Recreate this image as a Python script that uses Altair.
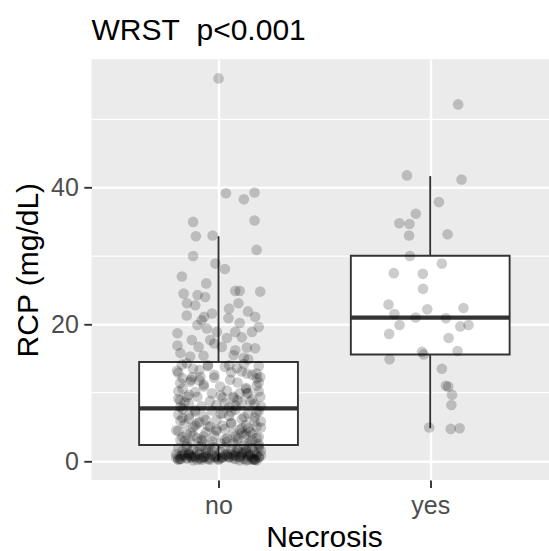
import json

import altair as alt
import pandas as pd

# Groups on the x axis
categories = ["no", "yes"]

# Jittered observations per group: (horizontal jitter in category units, RCP in mg/dL)
no_upper = [
    (0.0, 56.0), (0.035, 39.2), (0.12, 38.3), (0.17, 39.3), (-0.12, 35.0), (0.17, 35.2),
    (-0.107, 32.9), (-0.028, 33.0), (0.18, 30.9), (-0.12, 30.0), (-0.015, 28.9), (0.03, 28.1),
    (-0.173, 27.0), (-0.058, 26.0), (-0.165, 24.5), (0.079, 24.9), (0.10, 24.9), (0.197, 24.8),
    (-0.099, 24.3), (-0.063, 24.0), (-0.149, 23.1), (-0.11, 22.8), (0.094, 23.1), (0.139, 21.9),
    (0.173, 21.1), (0.047, 20.9), (-0.031, 21.6), (-0.068, 21.1), (0.10, 20.2), (-0.10, 19.9),
    (-0.194, 18.7), (-0.055, 19.4), (-0.008, 18.9), (0.079, 18.9), (0.158, 18.9), (-0.126, 17.7),
    (-0.039, 17.7), (0.04, 18.0), (0.11, 18.1), (-0.194, 16.9), (-0.094, 16.7), (0.016, 16.7),
    (0.079, 16.2), (0.134, 16.6), (0.173, 16.5), (-0.134, 15.3), (-0.071, 15.4), (0.071, 15.5),
    (-0.18, 15.8), (0.12, 15.1), (-0.02, 17.2), (0.19, 19.6), (-0.08, 20.6), (0.05, 22.3),
    (-0.15, 21.3), (0.14, 14.9),
]
no_mid_high = [
    (-0.173, 14.1), (-0.196, 13.2), (-0.124, 12.3), (-0.086, 12.3), (0.087, 13.6), (0.134, 12.8),
    (0.181, 12.1), (0.197, 12.3), (-0.181, 11.4), (-0.134, 11.6), (-0.031, 9.9), (0.055, 11.9),
    (0.008, 10.9), (0.134, 9.9), (0.197, 9.4), (-0.149, 9.4), (-0.181, 8.9), (-0.10, 9.4),
    (0.071, 9.4), (0.10, 9.9),
    (-0.15, 14.3), (-0.05, 14.0), (0.03, 13.8), (0.12, 14.2), (0.19, 13.9), (-0.19, 12.9),
    (-0.09, 13.3), (0.06, 13.0), (0.16, 12.6), (-0.13, 11.9), (-0.02, 12.2), (0.09, 11.5),
    (0.18, 11.0), (-0.17, 10.6), (-0.07, 10.9), (0.04, 10.3), (0.13, 10.7), (-0.11, 10.1),
    (0.01, 9.6), (0.19, 10.2), (-0.19, 9.1), (-0.04, 8.8), (0.07, 9.2), (0.15, 8.7),
    (-0.14, 8.4), (-0.01, 8.2), (0.11, 8.5), (0.2, 8.0), (-0.18, 7.9), (-0.08, 8.0),
    (0.05, 7.9), (0.17, 8.3),
    (-0.16, 8.6), (0.02, 9.3), (0.13, 10.5), (-0.07, 11.2), (0.18, 12.8), (-0.12, 13.5),
    (0.08, 8.1), (-0.02, 12.6), (0.16, 9.0), (-0.19, 10.2), (0.05, 14.0), (-0.09, 11.8),
    (0.11, 13.1), (-0.14, 9.7), (0.19, 11.5), (-0.05, 13.9), (0.03, 8.4), (0.14, 10.0),
    (-0.17, 12.1), (0.09, 8.9),
]
no_mid_low = [
    (-0.17, 7.6), (0.08, 7.5), (-0.03, 7.4), (0.19, 7.3), (-0.11, 7.2), (0.02, 7.0),
    (0.14, 6.9), (-0.19, 6.8), (0.05, 6.6), (-0.07, 6.5), (0.17, 6.4), (-0.14, 6.2),
    (0.11, 6.1), (-0.01, 6.0), (0.2, 5.8), (-0.09, 5.7), (0.06, 5.5), (-0.16, 5.4),
    (0.13, 5.3), (-0.05, 5.1), (0.18, 5.0), (-0.12, 4.9), (0.03, 4.7), (0.1, 4.6),
    (-0.2, 4.5), (0.15, 4.3), (-0.06, 4.2), (0.07, 4.1), (-0.15, 3.9), (0.12, 3.8),
    (-0.02, 3.7), (0.19, 3.5), (-0.1, 3.4), (0.04, 3.3), (-0.18, 3.1), (0.16, 3.0),
    (-0.08, 2.9), (0.09, 2.8), (-0.13, 2.7), (0.01, 2.6), (0.14, 2.5), (-0.04, 2.4),
    (0.18, 7.1), (-0.17, 6.3), (0.06, 5.6), (-0.11, 5.2), (0.11, 4.8), (-0.01, 4.4),
    (0.16, 4.0), (-0.07, 3.6), (0.03, 3.2), (-0.15, 2.45),
    (0.07, 2.6), (-0.16, 3.0), (0.18, 3.4), (-0.03, 2.9), (0.11, 4.1), (-0.12, 3.7),
    (0.02, 5.2), (0.15, 2.7), (-0.19, 4.4), (-0.06, 6.0), (0.09, 3.3), (0.2, 4.9),
    (-0.1, 5.5), (0.04, 2.8), (-0.14, 6.7), (0.13, 3.9), (-0.01, 4.6), (0.17, 5.8),
    (-0.17, 3.5), (0.06, 7.2), (-0.08, 3.1), (0.12, 6.4), (-0.13, 4.2), (0.19, 2.5),
    (-0.04, 5.0), (0.08, 3.6), (-0.18, 5.9), (0.01, 6.9), (0.14, 4.8), (-0.11, 7.4),
]
no_low = [
    (0.12, 2.3), (-0.08, 2.2), (0.19, 2.2), (-0.15, 2.1), (0.03, 2.0), (-0.02, 2.0),
    (0.16, 1.9), (-0.19, 1.9), (0.09, 1.8), (-0.12, 1.7), (0.06, 1.7), (-0.05, 1.6),
    (0.2, 1.5), (-0.17, 1.5), (0.13, 1.4), (-0.1, 1.4), (0.01, 1.3), (0.17, 1.3),
    (-0.14, 1.2), (0.08, 1.2), (-0.06, 1.1), (0.15, 1.1), (-0.2, 1.0), (0.04, 1.0),
    (-0.09, 1.0), (0.11, 0.9), (-0.03, 0.9), (0.18, 0.9), (-0.16, 0.8), (0.07, 0.8),
    (-0.11, 0.8), (0.14, 0.7), (-0.01, 0.7), (-0.18, 0.7), (0.1, 0.6), (-0.07, 0.6),
    (0.05, 0.6), (0.19, 0.5), (-0.13, 0.5), (0.02, 0.5), (-0.04, 0.4), (0.16, 0.4),
    (-0.15, 0.4), (0.12, 0.3), (-0.19, 0.3), (0.08, 0.3), (-0.08, 0.2), (0.17, 0.2),
    (0.0, 0.2), (-0.12, 0.1), (0.13, 0.1), (-0.06, 1.6),
    (-0.18, 0.3), (0.05, 0.5), (0.14, 0.2), (-0.09, 0.4), (0.2, 0.8), (-0.02, 0.6),
    (0.1, 0.1), (-0.14, 1.0), (0.17, 0.3), (-0.06, 0.7), (0.03, 0.9), (-0.19, 0.2),
    (0.12, 1.2), (-0.11, 0.5), (0.07, 0.4), (0.19, 0.6), (-0.16, 1.1), (0.0, 0.3),
    (0.15, 0.8), (-0.04, 0.2), (-0.2, 0.5), (0.09, 1.4), (-0.13, 0.7), (0.18, 0.1),
    (0.02, 0.6), (-0.08, 0.4), (0.13, 1.7), (-0.17, 0.9), (0.06, 1.0), (-0.05, 0.3),
    (0.16, 0.2), (-0.12, 0.6), (0.11, 1.3), (-0.01, 0.5), (-0.15, 0.4), (0.08, 0.8),
    (0.19, 1.9), (-0.1, 0.2), (0.04, 0.7), (-0.18, 0.3), (0.14, 1.0), (-0.07, 0.5),
    (0.1, 0.6), (-0.03, 1.5), (0.17, 0.2), (-0.14, 0.9), (0.01, 0.4), (-0.09, 2.1),
]
yes_points = [
    (0.132, 52.2), (-0.11, 41.8), (0.148, 41.2), (0.041, 37.9), (-0.068, 36.2), (-0.146, 34.8),
    (-0.098, 34.7), (-0.10, 33.0), (0.082, 33.2), (-0.096, 30.0), (0.055, 28.9), (-0.172, 27.5),
    (-0.035, 27.4), (-0.034, 25.2), (-0.197, 22.9), (-0.169, 21.5), (-0.014, 22.2), (0.157, 22.4),
    (-0.069, 21.0), (0.074, 20.9), (-0.145, 19.9), (0.142, 19.7), (0.181, 19.9), (-0.194, 18.6),
    (0.087, 18.0), (-0.039, 16.0), (-0.031, 15.6), (0.129, 16.1), (-0.192, 14.9), (0.055, 13.5),
    (0.074, 11.0), (0.085, 10.9), (0.103, 9.7), (0.10, 8.2), (-0.005, 4.9), (0.097, 4.7),
    (0.139, 4.8),
]

# Box summaries per group: lower whisker, Q1, median, Q3, upper whisker
box_lo = [0.1, 4.8]
box_q1 = [2.34, 15.6]
box_med = [7.7, 21.0]
box_q3 = [14.5, 30.05]
box_hi = [32.9, 41.7]

# Axis breaks
y_breaks = [0, 20, 40]
y_minor = [10, 30, 50]

groups = {1: no_upper + no_mid_high + no_mid_low + no_low, 2: yes_points}
points = pd.DataFrame(
    [{"pos": pos, "x": pos + dx, "rcp": y} for pos, pts in groups.items() for dx, y in pts]
)
boxes = pd.DataFrame({
    "pos": [1, 2], "lo": box_lo, "q1": box_q1, "med": box_med, "q3": box_q3, "hi": box_hi,
})
minor = pd.DataFrame({"rcp": y_minor})

W, H = 457.5, 420.7
PANEL = "#EBEBEB"
DARK = "#333333"
FONT = "Liberation Sans"

x_scale = alt.Scale(domain=[0.4, 2.561], nice=False, zero=False)
y_scale = alt.Scale(domain=[-2.78, 58.8], nice=False, zero=False)

x_axis = alt.Axis(
    values=[1, 2],
    labelExpr=f"{json.dumps(categories)}[datum.value - 1]",
    title="Necrosis",
    grid=True, gridColor="white", gridWidth=2.4,
    domain=False,
    tickColor=DARK, tickWidth=1.9, tickSize=7.5,
    labelColor="#4D4D4D", labelFontSize=25, labelPadding=6, labelFont=FONT,
    titleFontSize=30, titleFontWeight="normal", titleColor="black", titleFont=FONT,
    titleX=232.5, titleY=66, titleAlign="center", titleBaseline="alphabetic",
)
y_axis = alt.Axis(
    values=y_breaks,
    title="RCP (mg/dL)",
    grid=True, gridColor="white", gridWidth=2.4,
    domain=False,
    tickColor=DARK, tickWidth=1.9, tickSize=7.7,
    labelColor="#4D4D4D", labelFontSize=25, labelPadding=5.5, labelFont=FONT,
    titleFontSize=30, titleFontWeight="normal", titleColor="black", titleFont=FONT,
    titleAngle=270, titleX=-54, titleY=H / 2, titleAlign="center", titleBaseline="alphabetic",
)

X = lambda f: alt.X(f, type="quantitative", scale=x_scale, axis=x_axis)
Y = lambda f: alt.Y(f, type="quantitative", scale=y_scale, axis=y_axis)

minor_grid = alt.Chart(minor).mark_rule(color="white", strokeWidth=1.2).encode(y=Y("rcp"))

box_base = alt.Chart(boxes).transform_calculate(
    xlo="datum.pos - 0.375", xhi="datum.pos + 0.375"
)
whisker_low = box_base.mark_rule(color=DARK, strokeWidth=1.9).encode(
    x=X("pos"), y=Y("lo"), y2="q1"
)
whisker_high = box_base.mark_rule(color=DARK, strokeWidth=1.9).encode(
    x=X("pos"), y=Y("q3"), y2="hi"
)
box_rect = box_base.mark_rect(fill="white", stroke=DARK, strokeWidth=1.9).encode(
    x=X("xlo"), x2="xhi", y=Y("q1"), y2="q3"
)
median = box_base.mark_rule(color=DARK, strokeWidth=4.2).encode(
    x=X("xlo"), x2="xhi", y=Y("med")
)
dots = alt.Chart(points).mark_circle(color="black", opacity=0.2, size=113).encode(
    x=X("x"), y=Y("rcp")
)

chart = (
    alt.layer(minor_grid, whisker_low, whisker_high, box_rect, median, dots)
    .properties(
        width=W,
        height=H,
        title=alt.TitleParams(
            text="WRST\u00a0 p<0.001",
            anchor="start", frame="group",
            fontSize=30, fontWeight="normal", color="black", font=FONT,
            baseline="alphabetic", offset=20, dy=31,
        ),
        autosize="none",
        padding={"left": 91.5, "top": 59.3, "right": 0, "bottom": 71},
    )
    .configure(font=FONT)
    .configure_view(fill=PANEL, strokeWidth=0)
)

chart.save("out.html", embed_options={"renderer": "svg", "actions": False})
